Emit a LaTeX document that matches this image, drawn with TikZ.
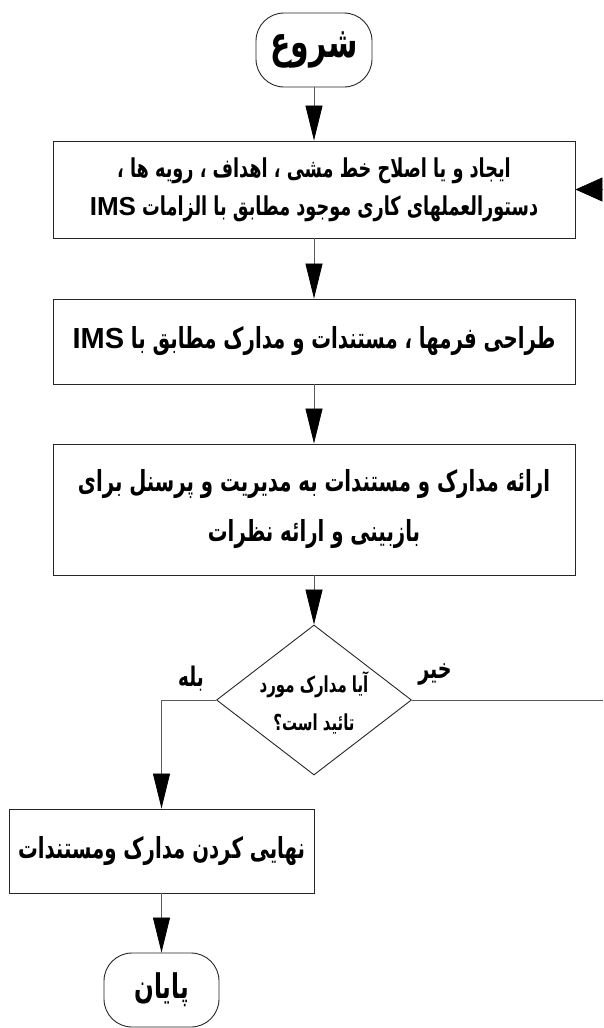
\documentclass[tikz,border=0pt]{standalone}
\usepackage{fontspec}
\usetikzlibrary{arrows.meta,shapes.geometric}
\TeXXeTstate=1
\newfontfamily\fafont[Script=Arabic,FakeStretch=0.68]{DejaVu Sans}
\newfontfamily\imsfont{Liberation Sans}
\newcommand\ims{\beginL{\imsfont\bfseries IMS}\endL}
\newcommand\fsz[2]{\fontsize{#1}{#2}\selectfont}

\tikzset{
  fa/.style 2 args={font=\fafont\bfseries\fsz{#1}{#2}},
  term/.style={draw=black!85, line width=0.9pt, rounded corners=28pt,
    minimum width=116pt, minimum height=74pt, inner sep=0pt},
  proc/.style={draw=black!85, line width=0.9pt, inner sep=0pt, align=center},
  decision/.style={draw=black!85, line width=0.9pt, diamond, inner sep=0pt,
    minimum width=195pt, minimum height=150pt},
  conn/.style={draw=black!65, line width=0.8pt,
    -{Triangle[length=35pt,width=17pt,fill=black,color=black]}},
  backarrow/.style={draw=black!65, line width=0.8pt,
    -{Triangle[length=27pt,width=24pt,fill=black,color=black]}},
  plain/.style={draw=black!65, line width=0.8pt},
  tag/.style={inner sep=0pt}
}

\begin{document}
\begin{tikzpicture}[x=1pt,y=-1pt]
\useasboundingbox (0,0) rectangle (603,1028);

% terminals and process steps
\node[term, fa={44}{48}] (start) at (314,50) {\beginR شروع\endR};

\node[proc, fa={26}{38}, minimum width=522pt, minimum height=97pt] (b1) at (314,189.5)
  {\beginR ایجاد و یا اصلاح خط مشی ، اهداف ، رویه ها ،\endR\\
   \beginR دستورالعملهای کاری موجود مطابق با الزامات \ims\endR};

\node[proc, fa={29}{34}, minimum width=522pt, minimum height=85pt] (b2) at (314,341.5)
  {\beginR طراحی فرمها ، مستندات و مدارک مطابق با \ims\endR};

\node[proc, fa={29}{50}, minimum width=522pt, minimum height=131pt] (b3) at (314,509.5)
  {\beginR ارائه مدارک و مستندات به مدیریت و پرسنل برای\endR\\
   \beginR بازبینی و ارائه نظرات\endR};

% decision
\node[decision] (dia) at (314,700) {};
\node[tag, align=center, fa={22}{38}] (diatext) at (314,703)
  {\beginR آیا مدارک مورد\endR\\
   \beginR تائید است؟\endR};

\node[proc, fa={29}{34}, minimum width=305pt, minimum height=84pt] (b4) at (161.5,851)
  {\beginR نهایی کردن مدارک ومستندات\endR};

\node[term, fa={34}{40}, minimum width=115pt] (end) at (161.5,990) {\beginR پایان\endR};

% branch labels
\node[tag, fa={27}{30}] (yes) at (191,679) {\beginR بله\endR};
\node[tag, fa={28}{30}] (no) at (435,674) {\beginR خیر\endR};

% loose ends at the right border
\coordinate (noend) at (603,700);
\coordinate (back) at (603,189.5);

% connectors
\draw[conn] (start) -- (b1);
\draw[conn] (b1) -- (b2);
\draw[conn] (b2) -- (b3);
\draw[conn] (b3) -- (dia);
\draw[conn] (dia.west) -| (b4.north);
\draw[plain] (dia.east) -- (noend);
\draw[conn] (b4) -- (end);
\draw[backarrow] (back) -- (b1.east);
\end{tikzpicture}
\end{document}
